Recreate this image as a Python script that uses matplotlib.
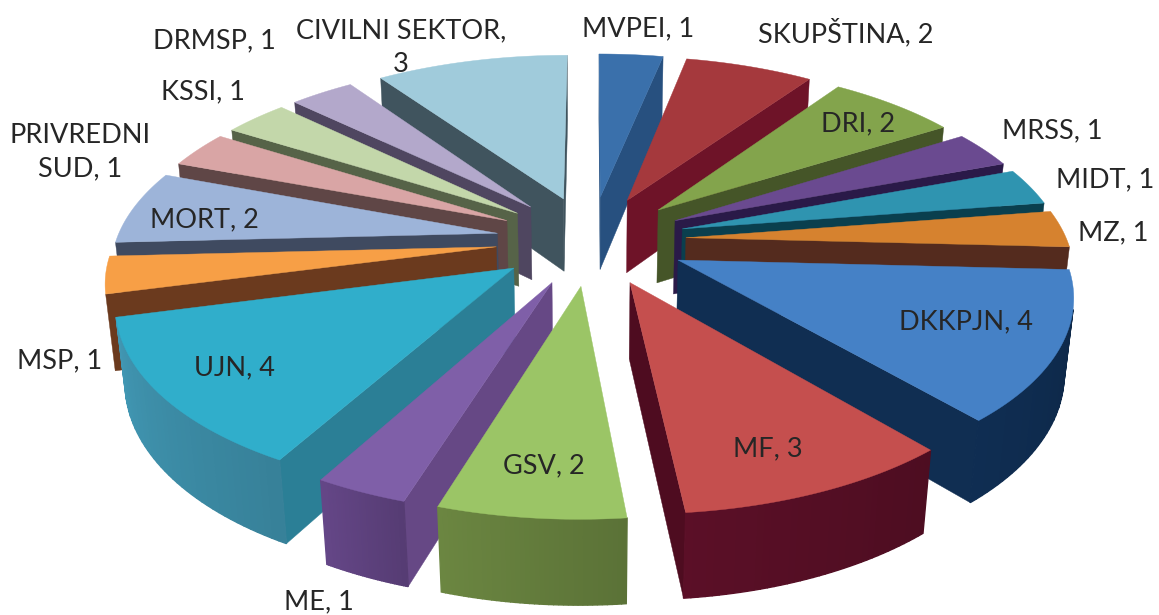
import numpy as np
import matplotlib
matplotlib.use("Agg")
import matplotlib.pyplot as plt
from matplotlib.colors import to_rgb

# clockwise from 12 o'clock
names = ["MVPEI", "SKUPŠTINA", "DRI", "MRSS", "MIDT", "MZ", "DKKPJN", "MF", "GSV",
         "ME", "UJN", "MSP", "MORT", "PRIVREDNI SUD", "KSSI", "DRMSP", "CIVILNI SEKTOR"]
values = [1, 2, 2, 1, 1, 1, 4, 3, 2, 1, 4, 1, 2, 1, 1, 1, 3]

top_colors = ["#3A70AB", "#A5393D", "#83A44C", "#6A4A90", "#2F94B0", "#D6822F", "#4581C6", "#C54F4E",
              "#9BC566", "#7F5FA8", "#30AECB", "#F79F46", "#9DB4D9", "#D9A5A5", "#C3D7AA", "#B3A8CB", "#A0CBDB"]
side_colors = ["#27507F", "#6E1328", "#455528", "#2A1A48", "#0A3F4E", "#542B1E", "#102E52", "#4E0C20",
               "#637C3C", "#664885", "#2B7F96", "#6B3A1E", "#3F4A60", "#5F4646", "#566348", "#4F4660", "#40545E"]
rim_colors = ["#27507F", "#6E1328", "#455528", "#2A1A48", "#0A3F4E", "#542B1E", "#0E2A4C", "#540E24",
              "#637C3C", "#5D417D", "#3C8CA6", "#6B3A1E", "#3F4A60", "#5F4646", "#566348", "#4F4660", "#40545E"]

# label text and where it sits on the picture
label_text = ["MVPEI, 1", "SKUPŠTINA, 2", "DRI, 2", "MRSS, 1", "MIDT, 1", "MZ, 1", "DKKPJN, 4", "MF, 3", "GSV, 2",
              "ME, 1", "UJN, 4", "MSP, 1", "MORT, 2", "PRIVREDNI\nSUD, 1", "KSSI, 1", "DRMSP, 1", "CIVILNI SEKTOR,\n3"]
label_x = [638, 846, 858, 1052, 1105, 1113, 966, 768, 544, 319, 234, 60, 204, 80, 203, 214, 401]
label_y = [29, 33, 124, 131, 180, 233, 322, 449, 466, 602, 368, 361, 220, 152, 92, 41, 48]

# camera
cx, cy = 591, 240
elev = np.radians(28)
D = 5.5
F = 2095
depth = 0.225
explode = 0.25


def project(x, y, z):
    # y points towards the viewer, z up
    u = x
    v = z*np.cos(elev) - y*np.sin(elev)
    w = y*np.cos(elev) + z*np.sin(elev)
    p = F/(D - w)
    return cx + u*p, cy - v*p


def area(sx, sy):
    # signed area on screen, tells which way a face looks
    return np.sum(sx*np.roll(sy, -1) - np.roll(sx, -1)*sy)


fig = plt.figure(figsize=(11.59, 6.15), dpi=100)
ax = fig.add_axes([0, 0, 1, 1])
ax.set_xlim(0, 1159)
ax.set_ylim(615, 0)
ax.axis("off")

total = sum(values)
edges = np.cumsum([0] + values)/total*2*np.pi
mids = (edges[:-1] + edges[1:])/2

# back slices first
order = np.argsort(-np.cos(mids))

for i in order:
    ox = explode*np.sin(mids[i])
    oy = -explode*np.cos(mids[i])
    a = np.linspace(edges[i], edges[i+1], 40)
    rim_x = ox + np.sin(a)
    rim_y = oy - np.cos(a)
    top = np.array(to_rgb(top_colors[i]))
    side = np.array(to_rgb(side_colors[i]))
    rim = np.array(to_rgb(rim_colors[i]))

    # straight cut faces
    for ang, sign in [(edges[i], -1), (edges[i+1], 1)]:
        ex, ey = ox + np.sin(ang), oy - np.cos(ang)
        sx, sy = project(np.array([ox, ex, ex, ox]), np.array([oy, ey, ey, oy]),
                         np.array([0, 0, -depth, -depth]))
        if area(sx, sy)*sign > 0:
            ax.fill(sx, sy, color=side, lw=0.3)

    # outer rim, lighter at its left end
    for k in range(len(a)-1):
        sx, sy = project(np.array([rim_x[k], rim_x[k+1], rim_x[k+1], rim_x[k]]),
                         np.array([rim_y[k], rim_y[k+1], rim_y[k+1], rim_y[k]]),
                         np.array([0, 0, -depth, -depth]))
        if area(sx, sy) < 0:
            t = k/(len(a)-2)
            ax.fill(sx, sy, color=np.clip(rim*(0.92 + 0.16*t), 0, 1), lw=1.0)

    sx, sy = project(np.r_[ox, rim_x], np.r_[oy, rim_y], np.zeros(len(a)+1))
    ax.fill(sx, sy, color=top, lw=0.3)

for i in range(len(names)):
    ax.text(label_x[i], label_y[i], label_text[i], fontsize=19.5, family="Lato", color="#262626",
            ha="center", va="center", linespacing=1.42, zorder=50)

fig.savefig("out.png", dpi=100)
